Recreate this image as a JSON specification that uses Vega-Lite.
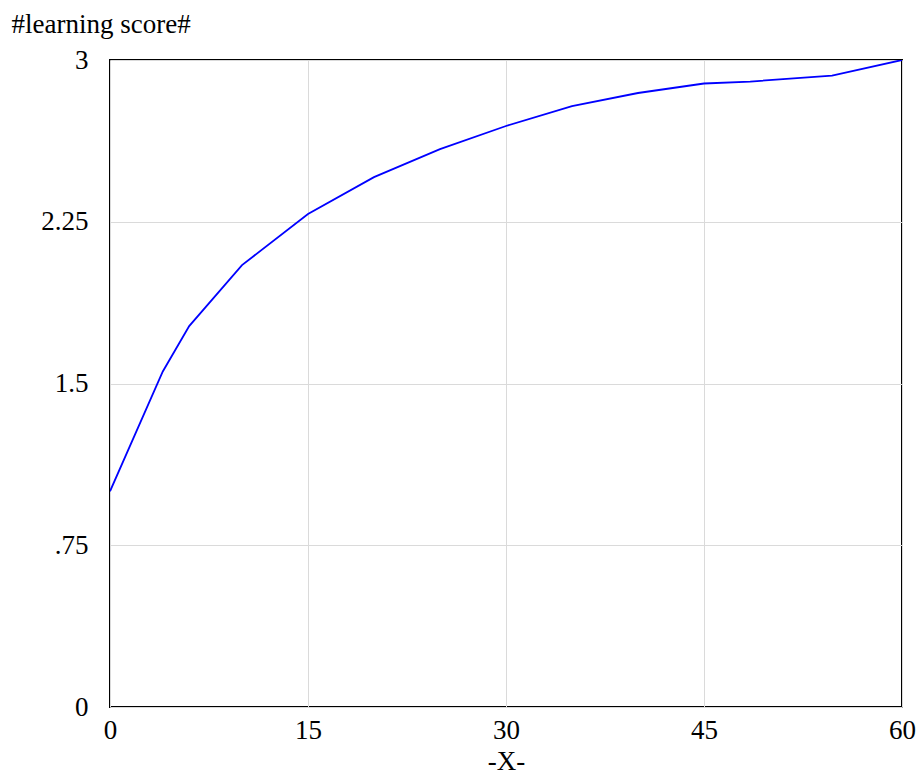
{
  "$schema": "https://vega.github.io/schema/vega-lite/v6.json",
  "width": 792,
  "height": 647,
  "autosize": {"type": "none"},
  "padding": {"left": 110, "top": 60, "right": 19, "bottom": 74},
  "background": "white",
  "config": {
    "view": {"stroke": "#000000", "strokeWidth": 2},
    "font": "'Liberation Serif', 'Times New Roman', serif",
    "axis": {
      "labelFont": "'Liberation Serif', 'Times New Roman', serif",
      "titleFont": "'Liberation Serif', 'Times New Roman', serif",
      "labelFontSize": 27,
      "titleFontSize": 27,
      "labelColor": "#000000",
      "titleColor": "#000000",
      "titleFontWeight": "normal",
      "domain": false,
      "ticks": false,
      "gridColor": "#dadada",
      "gridWidth": 1
    }
  },
  "data": {
    "values": [
      {"x": 0, "y": 1.0},
      {"x": 4, "y": 1.556},
      {"x": 6, "y": 1.766},
      {"x": 10, "y": 2.049},
      {"x": 15, "y": 2.286},
      {"x": 20, "y": 2.457},
      {"x": 25, "y": 2.587},
      {"x": 30, "y": 2.694},
      {"x": 35, "y": 2.786},
      {"x": 40, "y": 2.847},
      {"x": 45, "y": 2.891},
      {"x": 48.5, "y": 2.9},
      {"x": 54.7, "y": 2.928},
      {"x": 60, "y": 3.0}
    ]
  },
  "mark": {"type": "line", "color": "#0000ff", "strokeWidth": 1.8, "clip": true},
  "encoding": {
    "x": {
      "field": "x",
      "type": "quantitative",
      "scale": {"domain": [0, 60], "nice": false, "zero": false},
      "axis": {
        "values": [0, 15, 30, 45, 60],
        "title": "-X-",
        "labelPadding": 10,
        "titlePadding": 5,
        "labelFlush": false,
        "labelOverlap": false
      }
    },
    "y": {
      "field": "y",
      "type": "quantitative",
      "scale": {"domain": [0, 3], "nice": false, "zero": false},
      "axis": {
        "values": [0, 0.75, 1.5, 2.25, 3],
        "format": ".2~f",
        "labelExpr": "datum.value == 0.75 ? '.75' : datum.label",
        "labelPadding": 22,
        "labelFlush": false,
        "labelOverlap": false,
        "title": "#learning score#",
        "titleAngle": 0,
        "titleAlign": "left",
        "titleBaseline": "top",
        "titleX": -99,
        "titleY": -49
      }
    }
  }
}
